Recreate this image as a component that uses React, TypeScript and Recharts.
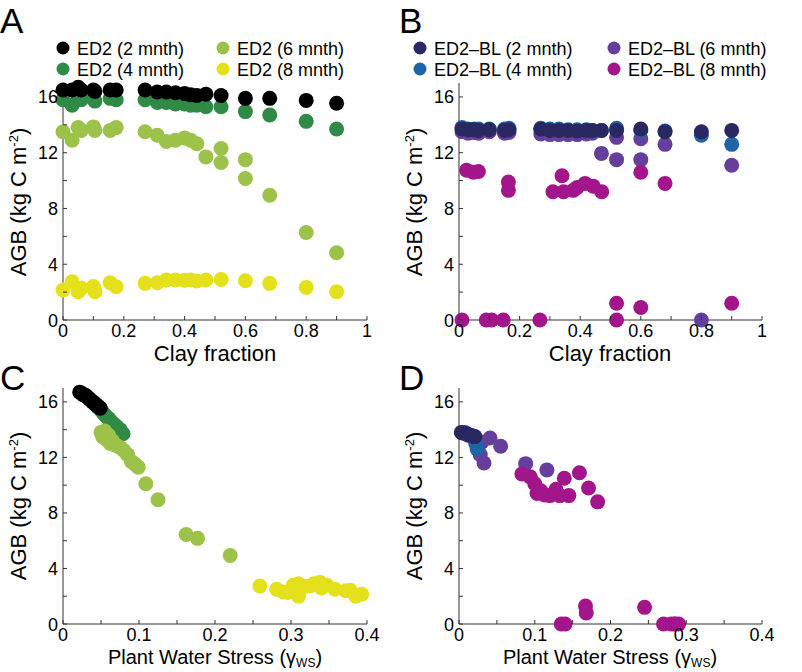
import { ScatterChart, Scatter, XAxis, YAxis } from "recharts";

const FONT = "'Liberation Sans', Arial, Helvetica, sans-serif";

// ---- Panel A: ED2, AGB vs clay fraction
const ed2Clay = [0.0, 0.03, 0.05, 0.06, 0.1, 0.105, 0.155, 0.175, 0.27, 0.31, 0.34, 0.37, 0.4, 0.42, 0.44, 0.47, 0.52, 0.6, 0.68, 0.8, 0.9];
const ed2Agb2 = [16.5, 16.5, 16.7, 16.5, 16.5, 16.4, 16.5, 16.5, 16.5, 16.35, 16.35, 16.3, 16.25, 16.15, 16.1, 16.2, 16.1, 15.9, 15.9, 15.75, 15.55];
const ed2Agb4 = [15.8, 15.4, 15.9, 15.8, 15.9, 15.7, 15.9, 15.8, 15.8, 15.6, 15.6, 15.5, 15.5, 15.4, 15.4, 15.3, 15.3, 14.95, 14.7, 14.25, 13.7];
const ed2Clay6 = [0.0, 0.03, 0.05, 0.06, 0.1, 0.105, 0.155, 0.175, 0.27, 0.31, 0.34, 0.37, 0.4, 0.42, 0.44, 0.47, 0.52, 0.52, 0.6, 0.6, 0.68, 0.8, 0.9];
const ed2Agb6 = [13.5, 12.9, 13.8, 13.6, 13.85, 13.6, 13.6, 13.8, 13.5, 13.25, 12.8, 12.9, 13.05, 12.9, 12.65, 11.7, 12.3, 11.3, 11.5, 10.15, 8.95, 6.28, 4.82];
const ed2Agb8 = [2.15, 2.74, 2.03, 2.3, 2.4, 2.03, 2.67, 2.38, 2.63, 2.67, 2.87, 2.87, 2.85, 2.87, 2.8, 2.87, 2.91, 2.82, 2.63, 2.34, 2.03];

// ---- Panel B: ED2-BL, AGB vs clay fraction
const blClay = [0.01, 0.03, 0.05, 0.065, 0.1, 0.15, 0.165, 0.27, 0.3, 0.33, 0.36, 0.39, 0.42, 0.44, 0.47, 0.52, 0.6, 0.68, 0.8, 0.9];
const blAgb2 = [13.7, 13.65, 13.65, 13.6, 13.65, 13.6, 13.65, 13.7, 13.6, 13.6, 13.6, 13.55, 13.6, 13.6, 13.6, 13.6, 13.7, 13.5, 13.5, 13.6];
const blAgb4 = [13.8, 13.7, 13.7, 13.7, 13.7, 13.7, 13.75, 13.75, 13.7, 13.7, 13.65, 13.65, 13.65, 13.6, 13.6, 13.75, 13.6, 13.55, 13.25, 12.6];
const blClay6 = [0.01, 0.03, 0.05, 0.065, 0.1, 0.15, 0.165, 0.27, 0.3, 0.33, 0.36, 0.39, 0.42, 0.44, 0.47, 0.52, 0.52, 0.6, 0.6, 0.68, 0.8, 0.9];
const blAgb6 = [13.5, 13.4, 13.45, 13.4, 13.5, 13.4, 13.45, 13.35, 13.3, 13.3, 13.3, 13.3, 13.35, 13.4, 11.95, 13.1, 11.5, 13.0, 11.5, 12.6, 0.0, 11.1];
const blClay8 = [0.01, 0.025, 0.047, 0.064, 0.09, 0.108, 0.146, 0.163, 0.163, 0.267, 0.31, 0.34, 0.345, 0.377, 0.39, 0.416, 0.443, 0.471, 0.52, 0.52, 0.6, 0.6, 0.68, 0.9];
const blAgb8 = [0, 10.75, 10.6, 10.65, 0, 0, 0, 9.9, 9.3, 0, 9.2, 10.35, 9.2, 9.3, 9.5, 9.8, 9.6, 9.2, 0, 1.2, 10.6, 0.9, 9.8, 1.2];

// ---- Panel C: ED2, AGB vs plant water stress
const ed2Ws2 = [0.022, 0.025, 0.027, 0.029, 0.031, 0.033, 0.035, 0.037, 0.039, 0.041, 0.043, 0.046, 0.049];
const ed2WsAgb2 = [16.7, 16.6, 16.5, 16.5, 16.4, 16.3, 16.2, 16.1, 16.0, 15.9, 15.8, 15.7, 15.55];
const ed2Ws4 = [0.042, 0.046, 0.05, 0.053, 0.056, 0.06, 0.063, 0.067, 0.071, 0.075, 0.079];
const ed2WsAgb4 = [15.9, 15.6, 15.4, 15.2, 15.0, 14.8, 14.6, 14.4, 14.2, 14.0, 13.7];
const ed2Ws6 = [0.05, 0.052, 0.055, 0.057, 0.06, 0.062, 0.065, 0.068, 0.072, 0.076, 0.08, 0.085, 0.09, 0.095, 0.099, 0.109, 0.125, 0.162, 0.177, 0.22];
const ed2WsAgb6 = [13.8, 13.5, 13.9, 13.3, 13.6, 13.0, 13.2, 12.9, 12.8, 12.7, 12.5, 12.2, 11.7, 11.5, 11.3, 10.1, 8.95, 6.45, 6.17, 4.94];
const ed2Ws8 = [0.259, 0.281, 0.29, 0.296, 0.303, 0.307, 0.31, 0.31, 0.318, 0.325, 0.33, 0.338, 0.34, 0.347, 0.358, 0.372, 0.378, 0.385, 0.393];
const ed2WsAgb8 = [2.74, 2.5, 2.3, 2.27, 2.8, 2.6, 2.9, 2.0, 2.7, 2.74, 2.9, 3.0, 2.6, 2.8, 2.5, 2.4, 2.43, 2.0, 2.15];

// ---- Panel D: ED2-BL, AGB vs plant water stress
const blWs2 = [0.003, 0.006, 0.009, 0.012, 0.015, 0.018, 0.021];
const blWsAgb2 = [13.8, 13.75, 13.7, 13.65, 13.6, 13.55, 13.5];
const blWs4 = [0.008, 0.015, 0.022, 0.024];
const blWsAgb4 = [13.8, 13.6, 13.0, 12.6];
const blWs6 = [0.012, 0.02, 0.025, 0.03, 0.041, 0.055, 0.028, 0.033, 0.088, 0.116, 0.285];
const blWsAgb6 = [13.6, 13.4, 13.2, 13.1, 13.4, 12.8, 12.2, 11.6, 11.55, 11.1, 0];
const blWs8 = [0.083, 0.094, 0.1, 0.103, 0.12, 0.128, 0.133, 0.139, 0.145, 0.159, 0.171, 0.183, 0.108, 0.113, 0.135, 0.14, 0.167, 0.168, 0.245, 0.27, 0.28, 0.285, 0.29];
const blWsAgb8 = [10.8, 10.6, 10.1, 9.4, 9.25, 9.7, 9.25, 10.5, 9.25, 10.9, 9.8, 8.8, 9.6, 9.3, 0, 0, 1.3, 0.8, 1.2, 0, 0, 0, 0];

// ticks
const agbTicks = [0, 2, 4, 6, 8, 10, 12, 14, 16];
const agbLabels = [0, 4, 8, 12, 16];
const clayTicks = [0, 0.1, 0.2, 0.3, 0.4, 0.5, 0.6, 0.7, 0.8, 0.9, 1];
const clayLabels = [0, 0.2, 0.4, 0.6, 0.8, 1];
const wsTicks = [0, 0.05, 0.1, 0.15, 0.2, 0.25, 0.3, 0.35, 0.4];
const wsLabels = [0, 0.1, 0.2, 0.3, 0.4];

const C = {
  m2: "#000000",
  m4: "#2f8a45",
  m6: "#9cc24a",
  m8: "#e4e11c",
  b2: "#2a2863",
  b4: "#1f64a6",
  b6: "#663f9c",
  b8: "#a3168b",
};

type Series = { color: string; xs: number[]; ys: number[] };

const zip = (xs: number[], ys: number[]) => xs.map((x, i) => ({ x, y: ys[i] }));
const has = (arr: number[], v: number) => arr.some((a) => Math.abs(a - v) < 1e-9);
const AX = "#333";

function Panel(props: {
  left: number;
  top: number;
  width: number;
  height: number;
  plot: [number, number, number, number];
  xDomain: [number, number];
  xTicks: number[];
  xLabels: number[];
  series: Series[];
}) {
  const { left, top, width, height, plot, xDomain, xTicks, xLabels, series } = props;
  const [pl, pt, pr, pb] = plot;
  return (
    <div style={{ position: "absolute", left, top }}>
      <ScatterChart width={width} height={height} margin={{ top: pt, right: width - pr, bottom: 0, left: 0 }}>
        <XAxis
          xAxisId="b"
          dataKey="x"
          type="number"
          domain={xDomain}
          ticks={xTicks}
          interval={0}
          height={height - pb}
          axisLine={{ stroke: AX }}
          tickLine={false}
          tickSize={0}
          tickMargin={0}
          tick={(p: any) => (
            <g key={p.index}>
              <line x1={p.x} y1={p.y} x2={p.x} y2={p.y - 4} stroke={AX} />
              {has(xLabels, p.payload.value) && (
                <text x={p.x} y={p.y + 17} textAnchor="middle" fontSize={18} fontFamily={FONT} fill="#000">
                  {String(p.payload.value)}
                </text>
              )}
            </g>
          )}
        />
        <XAxis
          xAxisId="t"
          orientation="top"
          type="number"
          domain={xDomain}
          ticks={xTicks}
          interval={0}
          height={0}
          axisLine={{ stroke: AX }}
          tickLine={false}
          tickSize={0}
          tickMargin={0}
          tick={(p: any) => <line key={p.index} x1={p.x} y1={p.y} x2={p.x} y2={p.y + 4} stroke={AX} />}
        />
        <YAxis
          yAxisId="l"
          dataKey="y"
          type="number"
          domain={[0, 17]}
          ticks={agbTicks}
          interval={0}
          width={pl}
          axisLine={{ stroke: AX }}
          tickLine={false}
          tickSize={0}
          tickMargin={0}
          tick={(p: any) => (
            <g key={p.index}>
              <line x1={p.x} y1={p.y} x2={p.x + 4} y2={p.y} stroke={AX} />
              {has(agbLabels, p.payload.value) && (
                <text x={p.x - 5} y={p.y + 6.5} textAnchor="end" fontSize={18} fontFamily={FONT} fill="#000">
                  {String(p.payload.value)}
                </text>
              )}
            </g>
          )}
        />
        <YAxis
          yAxisId="r"
          orientation="right"
          type="number"
          domain={[0, 17]}
          ticks={agbTicks}
          interval={0}
          width={0}
          axisLine={{ stroke: AX }}
          tickLine={false}
          tickSize={0}
          tickMargin={0}
          tick={(p: any) => <line key={p.index} x1={p.x} y1={p.y} x2={p.x - 4} y2={p.y} stroke={AX} />}
        />
        {series.map((s, i) => (
          <Scatter
            key={i}
            xAxisId="b"
            yAxisId="l"
            data={zip(s.xs, s.ys)}
            isAnimationActive={false}
            shape={(p: any) => <circle cx={p.cx} cy={p.cy} r={7.5} fill={s.color} />}
          />
        ))}
      </ScatterChart>
    </div>
  );
}

function LegendItem({ x, y, color, label }: { x: number; y: number; color: string; label: string }) {
  return (
    <g>
      <circle cx={x} cy={y} r={6.5} fill={color} />
      <text x={x + 14} y={y + 6.5} fontSize={18} fontFamily={FONT} fill="#000">
        {label}
      </text>
    </g>
  );
}

function YLabel({ x, y }: { x: number; y: number }) {
  return (
    <text transform={`translate(${x},${y}) rotate(-90)`} textAnchor="middle" fontSize={22} fontFamily={FONT} fill="#000">
      AGB (kg C m
      <tspan dy={-8} fontSize={13}>-2</tspan>
      <tspan dy={8}>)</tspan>
    </text>
  );
}

function WsLabel({ x, y }: { x: number; y: number }) {
  return (
    <text x={x} y={y} textAnchor="middle" fontSize={20} fontFamily={FONT} fill="#000">
      Plant Water Stress (γ
      <tspan dy={3} fontSize={12}>WS</tspan>
      <tspan dy={-3}>)</tspan>
    </text>
  );
}

export default function App() {
  return (
    <div style={{ position: "absolute", left: 0, top: 0, width: 802, height: 672, background: "#fff" }}>
      <Panel
        left={0}
        top={0}
        width={400}
        height={360}
        plot={[63, 83, 367, 320]}
        xDomain={[0, 1]}
        xTicks={clayTicks}
        xLabels={clayLabels}
        series={[
          { color: C.m4, xs: ed2Clay, ys: ed2Agb4 },
          { color: C.m2, xs: ed2Clay, ys: ed2Agb2 },
          { color: C.m6, xs: ed2Clay6, ys: ed2Agb6 },
          { color: C.m8, xs: ed2Clay, ys: ed2Agb8 },
        ]}
      />
      <Panel
        left={400}
        top={0}
        width={400}
        height={360}
        plot={[59, 83, 362, 320]}
        xDomain={[0, 1]}
        xTicks={clayTicks}
        xLabels={clayLabels}
        series={[
          { color: C.b6, xs: blClay6, ys: blAgb6 },
          { color: C.b4, xs: blClay, ys: blAgb4 },
          { color: C.b2, xs: blClay, ys: blAgb2 },
          { color: C.b8, xs: blClay8, ys: blAgb8 },
        ]}
      />
      <Panel
        left={0}
        top={340}
        width={400}
        height={332}
        plot={[63, 48, 367, 284]}
        xDomain={[0, 0.4]}
        xTicks={wsTicks}
        xLabels={wsLabels}
        series={[
          { color: C.m4, xs: ed2Ws4, ys: ed2WsAgb4 },
          { color: C.m2, xs: ed2Ws2, ys: ed2WsAgb2 },
          { color: C.m6, xs: ed2Ws6, ys: ed2WsAgb6 },
          { color: C.m8, xs: ed2Ws8, ys: ed2WsAgb8 },
        ]}
      />
      <Panel
        left={400}
        top={340}
        width={400}
        height={332}
        plot={[59, 48, 362, 284]}
        xDomain={[0, 0.4]}
        xTicks={wsTicks}
        xLabels={wsLabels}
        series={[
          { color: C.b6, xs: blWs6, ys: blWsAgb6 },
          { color: C.b4, xs: blWs4, ys: blWsAgb4 },
          { color: C.b2, xs: blWs2, ys: blWsAgb2 },
          { color: C.b8, xs: blWs8, ys: blWsAgb8 },
        ]}
      />
      <svg width={802} height={672} style={{ position: "absolute", left: 0, top: 0, pointerEvents: "none" }}>
        <text x={0} y={33} fontSize={35} fontFamily={FONT}>A</text>
        <text x={399} y={33} fontSize={35} fontFamily={FONT}>B</text>
        <text x={0} y={390} fontSize={35} fontFamily={FONT}>C</text>
        <text x={399} y={390} fontSize={35} fontFamily={FONT}>D</text>

        <LegendItem x={63} y={48} color={C.m2} label="ED2 (2 mnth)" />
        <LegendItem x={63} y={69} color={C.m4} label="ED2 (4 mnth)" />
        <LegendItem x={223} y={48} color={C.m6} label="ED2 (6 mnth)" />
        <LegendItem x={223} y={69} color={C.m8} label="ED2 (8 mnth)" />

        <LegendItem x={420} y={48} color={C.b2} label="ED2–BL (2 mnth)" />
        <LegendItem x={420} y={69} color={C.b4} label="ED2–BL (4 mnth)" />
        <LegendItem x={614} y={48} color={C.b6} label="ED2–BL (6 mnth)" />
        <LegendItem x={614} y={69} color={C.b8} label="ED2–BL (8 mnth)" />

        <YLabel x={26} y={202} />
        <YLabel x={422} y={202} />
        <YLabel x={26} y={506} />
        <YLabel x={422} y={506} />

        <text x={215} y={361} textAnchor="middle" fontSize={22} fontFamily={FONT}>Clay fraction</text>
        <text x={610} y={361} textAnchor="middle" fontSize={22} fontFamily={FONT}>Clay fraction</text>
        <WsLabel x={215} y={664} />
        <WsLabel x={610} y={664} />
      </svg>
    </div>
  );
}
